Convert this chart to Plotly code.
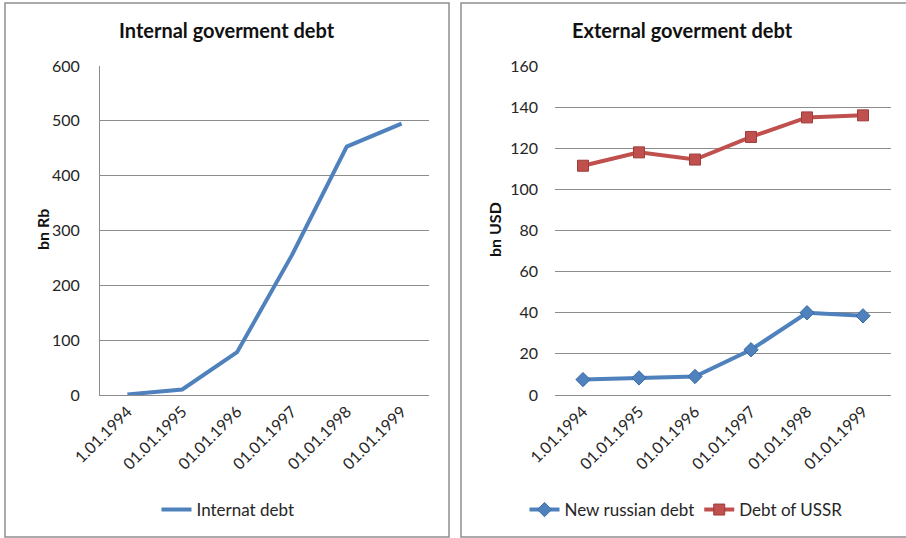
import plotly.graph_objects as go

W, H = 906, 538

dates = ["1.01.1994", "01.01.1995", "01.01.1996", "01.01.1997", "01.01.1998", "01.01.1999"]
internal_debt = [1, 10, 78, 255, 453, 495]
new_russian_debt = [7.5, 8.3, 9, 22, 40, 38.5]
ussr_debt = [111.5, 118, 114.5, 125.5, 135, 136]

BLUE = "#4F81BD"
RED = "#C0504D"
GRID = "#8C8C8C"
FONT = "Lato, 'Open Sans', sans-serif"

def px_x(v):
    return v / W

def px_y(v):
    return 1 - v / H

fig = go.Figure()

fig.add_trace(go.Scatter(
    x=dates, y=internal_debt, name="Internat debt", mode="lines",
    line=dict(color=BLUE, width=4), xaxis="x", yaxis="y", legend="legend",
))
fig.add_trace(go.Scatter(
    x=dates, y=new_russian_debt, name="New russian debt", mode="lines+markers",
    line=dict(color=BLUE, width=4),
    marker=dict(symbol="diamond", size=11, color=BLUE, line=dict(color="#3A6AA5", width=1)),
    xaxis="x2", yaxis="y2", legend="legend2",
))
fig.add_trace(go.Scatter(
    x=dates, y=ussr_debt, name="Debt of USSR", mode="lines+markers",
    line=dict(color=RED, width=4),
    marker=dict(symbol="square", size=11, color=RED, line=dict(color="#A03C39", width=1)),
    xaxis="x2", yaxis="y2", legend="legend2",
))

ydom = [px_y(395), px_y(66)]
tickfont = dict(family=FONT, size=16, color="#262626")

common_x = dict(type="category", range=[-0.5, 5.5], tickangle=-45, tickfont=tickfont,
                showgrid=False, showline=True, linecolor=GRID, linewidth=1,
                ticks="", fixedrange=True, automargin=False)
common_y = dict(tickfont=tickfont, showgrid=True, gridcolor=GRID, gridwidth=1,
                zeroline=False, ticks="", ticklabelstandoff=16, automargin=False)

fig.update_layout(
    width=W, height=H,
    margin=dict(l=0, r=0, t=0, b=0, autoexpand=False),
    paper_bgcolor="white", plot_bgcolor="white",
    font=dict(family=FONT, color="#262626"),
    xaxis=dict(domain=[px_x(100), px_x(429)], anchor="y", **common_x),
    yaxis=dict(domain=ydom, anchor="x", range=[0, 600], dtick=100,
               showline=True, linecolor=GRID, linewidth=1, **common_y),
    xaxis2=dict(domain=[px_x(555), px_x(891)], anchor="y2", **common_x),
    yaxis2=dict(domain=ydom, anchor="x2", range=[0, 160], dtick=20,
                showline=False, **common_y),
    legend=dict(orientation="h", x=px_x(228), y=px_y(510), xanchor="center", yanchor="middle",
                font=dict(family=FONT, size=17, color="#262626"), bgcolor="rgba(0,0,0,0)"),
    legend2=dict(orientation="h", x=px_x(686), y=px_y(510), xanchor="center", yanchor="middle",
                 font=dict(family=FONT, size=17, color="#262626"), bgcolor="rgba(0,0,0,0)"),
    showlegend=True,
)

# panel borders
for x0, x1 in [(5, 449), (461, 907)]:
    fig.add_shape(type="rect", xref="paper", yref="paper",
                  x0=px_x(x0), x1=px_x(x1), y0=px_y(537), y1=px_y(3),
                  line=dict(color="#8F8F8F", width=1.5), fillcolor="rgba(0,0,0,0)", layer="below")

annotations = [
    dict(text="<b>Internal goverment debt</b>", x=px_x(227), y=px_y(30),
         font=dict(family=FONT, size=20, color="#111")),
    dict(text="<b>External goverment debt</b>", x=px_x(682), y=px_y(30),
         font=dict(family=FONT, size=20, color="#111")),
    dict(text="<b>bn Rb</b>", x=px_x(43), y=px_y(230), textangle=-90,
         font=dict(family=FONT, size=16, color="#111")),
    dict(text="<b>bn USD</b>", x=px_x(495), y=px_y(230), textangle=-90,
         font=dict(family=FONT, size=16, color="#111")),
]
for a in annotations:
    fig.add_annotation(xref="paper", yref="paper", showarrow=False,
                       xanchor="center", yanchor="middle", **a)

fig.write_html("out.html")
